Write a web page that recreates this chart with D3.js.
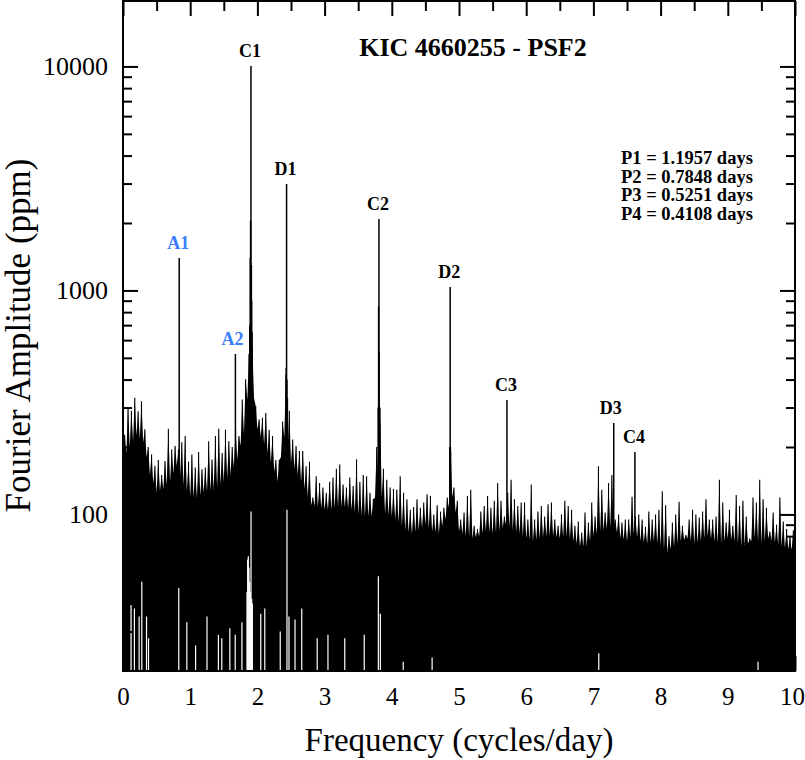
<!DOCTYPE html>
<meta charset="utf-8">
<style>
body { margin: 0; background: #fff; }
text { font-family: "Liberation Serif", "Times New Roman", serif; }
</style>
<body>
<script src="https://d3js.org/d3.v7.min.js"></script>
<script>
// noise spectrum: envelope tops, one value per 0.05 c/d bin (centres 0.025, 0.075, ...)
var spikes = [227,300,290,332,289,320,240,200,185,165,
  175,150,173,241,195,202,195,210,224,172,
  185,162,190,159,162,212,176,224,241,188,
  239,212,200,240,224,326,401,520,560,305,
  265,270,284,239,224,175,175,260,420,290,
  216,202,192,192,164,172,119,148,138,132,
  125,140,146,160,167,136,132,146,134,176,
  140,150,148,125,117,200,300,160,143,132,
  130,129,148,125,117,105,108,117,107,113,
  123,121,100,110,103,107,119,200,132,115,
  95,102,121,129,89,86,103,109,121,107,
  115,138,115,98,125,143,117,109,113,113,
  95,136,95,103,109,98,111,113,95,89,
  100,115,109,105,89,93,83,102,92,113,
  98,164,129,102,138,150,95,100,92,95,
  95,120,98,100,95,88,103,95,100,105,
  127,110,80,92,100,114,89,81,95,105,
  100,97,103,117,95,95,98,143,113,92,
  105,89,122,109,115,98,78,119,113,143,
  117,107,84,102,90,119,93,86,80,85];

// valley floor of the noise, every 0.1 c/d from 0 to 10
var floorAmp = [175,200,225,210,150,125,130,140,165,135,
  120,118,125,128,132,140,150,175,230,420,
  240,205,170,140,220,170,150,130,110,108,
  105,105,108,108,105,100,98,98,140,100,
  98,92,85,82,85,90,84,82,95,120,
  84,80,78,80,84,82,84,90,85,82,
  78,76,78,80,80,78,80,76,72,72,
  80,84,86,88,78,76,82,76,74,76,
  72,68,72,76,78,74,76,80,76,74,
  78,76,72,74,78,74,78,75,72,70,
  68];

// identified peaks
var peakNames = ["A1","A2","C1","D1","C2","D2","C3","D3","C4"];
var peakFreq = [0.8363, 1.6727, 1.9044, 2.4343, 3.8088, 4.8686, 5.7132, 7.3028, 7.6176];
var peakAmp = [1396, 520, 10050, 2990, 2085, 1036, 324, 256, 190];

// broadened bases next to the strongest peaks [freq, amp]
var sidelobes = [[1.886,700],[1.893,1400],[1.898,2050],[1.911,1300],[1.915,900],[1.922,650],
  [2.428,450],[2.440,400],[2.447,330],
  [3.797,300],[3.803,850],[3.812,530],[3.820,260],
  [4.862,200],[4.874,190]];

// places where the spectrum drops below the visible floor [freq, amp]
var gaps = [[0.12,40],[0.17,38],[0.24,35],[0.28,50],[0.35,35],[0.38,28],[0.83,47],[0.95,33],
  [1.08,26],[1.25,35],[1.42,29],[1.47,28],[1.59,31],[1.67,29],[1.77,33],
  [1.845,45],[1.855,63],[1.865,65],[1.875,58],[1.885,50],[1.895,45],[1.905,103],[1.915,42],[1.925,40],
  [2.05,36],[2.11,38],[2.34,30],[2.44,105],[2.47,35],[2.56,34],[2.66,38],[2.89,28],
  [3.05,29],[3.3,28],[3.59,29],[3.8,53],[3.83,36],[4.17,22],[4.6,23],[7.08,24],[9.45,22]];

var periods = ["P1 = 1.1957 days", "P2 = 0.7848 days", "P3 = 0.5251 days", "P4 = 0.4108 days"];
var yMajor = [100, 1000, 10000];
var yMinor = [30,40,50,60,70,80,90,200,300,400,500,600,700,800,900,2000,3000,4000,5000,6000,7000,8000,9000];
var xMajor = [0,1,2,3,4,5,6,7,8,9,10];
var xMinor = [0.5,1.5,2.5,3.5,4.5,5.5,6.5,7.5,8.5,9.5];

var W = 805, H = 760,
    pLeft = 123, pRight = 795, pTop = 1, pBottom = 671;

var svg = d3.select("body").append("svg").attr("width", W).attr("height", H);

var x = d3.scaleLinear().domain([0, 10]).range([pLeft, pRight]);
var y = d3.scaleLog().domain([20, 20000]).range([pBottom, pBottom - 672]);

var floorFreq = d3.range(0, 101).map(function(i) { return i / 10; });
var floorAt = d3.scaleLinear().domain(floorFreq).range(floorAmp);

svg.append("clipPath").attr("id", "clip")
  .append("rect").attr("x", pLeft).attr("y", pTop).attr("width", pRight - pLeft).attr("height", pBottom - pTop);

var plot = svg.append("g").attr("clip-path", "url(#clip)");

// zig-zag noise: valley, spike, valley, ...
var pts = [];
spikes.forEach(function(a, k) {
  var f0 = k * 0.05;
  pts.push([f0, floorAt(f0)]);
  pts.push([f0 + 0.025, a]);
});
pts.push([10, floorAt(10)]);

var area = d3.area()
  .x(function(d) { return x(d[0]); })
  .y0(pBottom + 2)
  .y1(function(d) { return y(d[1]); });

plot.append("path").datum(pts).attr("d", area).attr("fill", "#000");

// crisp thin tips on every noise spike
plot.selectAll(".spk").data(spikes).enter().append("line")
  .attr("x1", function(d, k) { return x(k * 0.05 + 0.025); })
  .attr("x2", function(d, k) { return x(k * 0.05 + 0.025); })
  .attr("y1", pBottom + 2)
  .attr("y2", function(d) { return y(d); })
  .attr("stroke", "#000").attr("stroke-width", 1.1);

plot.selectAll(".lobe").data(sidelobes).enter().append("line")
  .attr("x1", function(d) { return x(d[0]); })
  .attr("x2", function(d) { return x(d[0]); })
  .attr("y1", pBottom + 2)
  .attr("y2", function(d) { return y(d[1]); })
  .attr("stroke", "#000").attr("stroke-width", 1.4);

plot.selectAll(".peak").data(peakFreq).enter().append("line")
  .attr("x1", function(d) { return x(d); })
  .attr("x2", function(d) { return x(d); })
  .attr("y1", pBottom + 2)
  .attr("y2", function(d, i) { return y(peakAmp[i]); })
  .attr("stroke", "#000").attr("stroke-width", 1.5);

plot.selectAll(".gap").data(gaps).enter().append("line")
  .attr("x1", function(d) { return x(d[0]); })
  .attr("x2", function(d) { return x(d[0]); })
  .attr("y1", pBottom + 2)
  .attr("y2", function(d) { return y(d[1]); })
  .attr("stroke", "#fff").attr("stroke-width", 1.2);

// axes, ticks pointing inward on all four sides
function styleAxis(g) {
  g.select(".domain").remove();
  g.selectAll("line").attr("stroke-width", 2);
  g.attr("font-family", null).attr("font-size", null);
  g.selectAll("text").attr("font-size", 26).attr("fill", "#000");
}

svg.append("g").attr("transform", "translate(" + pLeft + ",0)")
  .call(d3.axisLeft(y).tickValues(yMajor).tickSize(-15).tickPadding(15).tickFormat(d3.format("d")))
  .call(styleAxis);
svg.append("g").attr("transform", "translate(" + pLeft + ",0)")
  .call(d3.axisLeft(y).tickValues(yMinor).tickSize(-9).tickFormat(""))
  .call(styleAxis);
svg.append("g").attr("transform", "translate(" + pRight + ",0)")
  .call(d3.axisRight(y).tickValues(yMajor).tickSize(-15).tickFormat(""))
  .call(styleAxis);
svg.append("g").attr("transform", "translate(" + pRight + ",0)")
  .call(d3.axisRight(y).tickValues(yMinor).tickSize(-9).tickFormat(""))
  .call(styleAxis);

var xAxisG = svg.append("g").attr("transform", "translate(0," + pBottom + ")")
  .call(d3.axisBottom(x).tickValues(xMajor).tickSize(-15).tickPadding(16).tickFormat(d3.format("d")))
  .call(styleAxis);
xAxisG.selectAll("text").attr("font-size", 25);
xAxisG.selectAll("text").filter(function(d) { return d == 10; }).attr("dx", -3);
svg.append("g").attr("transform", "translate(0," + pBottom + ")")
  .call(d3.axisBottom(x).tickValues(xMinor).tickSize(-10).tickFormat(""))
  .call(styleAxis);
svg.append("g").attr("transform", "translate(0," + pTop + ")")
  .call(d3.axisTop(x).tickValues(xMajor).tickSize(-15).tickFormat(""))
  .call(styleAxis);
svg.append("g").attr("transform", "translate(0," + pTop + ")")
  .call(d3.axisTop(x).tickValues(xMinor).tickSize(-10).tickFormat(""))
  .call(styleAxis);

svg.append("rect")
  .attr("x", pLeft).attr("y", pTop)
  .attr("width", pRight - pLeft).attr("height", pBottom - pTop)
  .attr("fill", "none").attr("stroke", "#000").attr("stroke-width", 2);

// peak labels
svg.selectAll(".plab").data(peakNames).enter().append("text")
  .attr("x", function(d, i) { return x(peakFreq[i]); })
  .attr("y", function(d, i) { return y(peakAmp[i]) - 9; })
  .attr("dx", function(d) { return (d == "A2" || d == "D3") ? -3 : -1; })
  .attr("text-anchor", "middle")
  .attr("font-size", 18).attr("font-weight", "bold")
  .attr("fill", function(d) { return d.charAt(0) == "A" ? "#3a7dff" : "#000"; })
  .text(function(d) { return d; });

svg.append("text")
  .attr("x", 473).attr("y", 56)
  .attr("text-anchor", "middle")
  .attr("font-size", 26).attr("font-weight", "bold")
  .text("KIC 4660255 - PSF2");

svg.selectAll(".per").data(periods).enter().append("text")
  .attr("x", 621)
  .attr("y", function(d, i) { return 164 + i * 18.7; })
  .attr("font-size", 18.5).attr("font-weight", "bold")
  .text(function(d) { return d; });

svg.append("text")
  .attr("x", (pLeft + pRight) / 2).attr("y", 751)
  .attr("text-anchor", "middle")
  .attr("font-size", 33)
  .text("Frequency (cycles/day)");

svg.append("text")
  .attr("transform", "translate(30," + (pBottom / 2) + ") rotate(-90)")
  .attr("text-anchor", "middle")
  .attr("font-size", 35)
  .text("Fourier Amplitude (ppm)");
</script>
</body>
